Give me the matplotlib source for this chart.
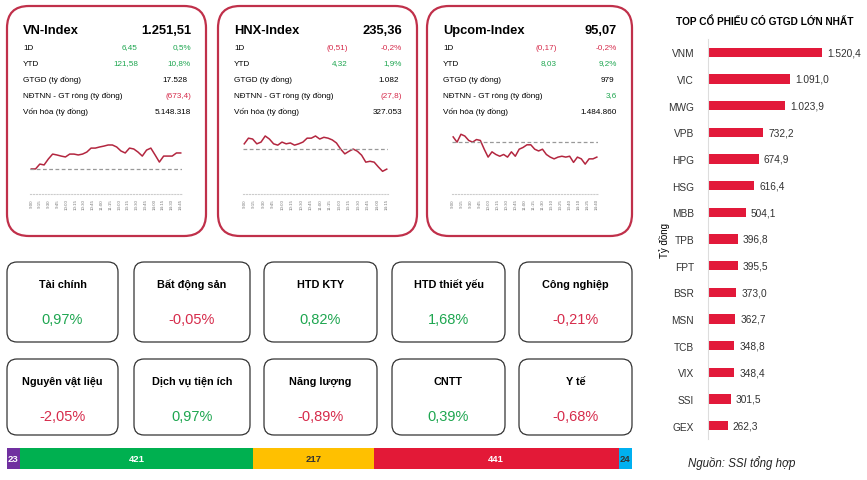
import matplotlib
matplotlib.use("Agg")
import matplotlib.pyplot as plt
from matplotlib.patches import FancyBboxPatch
import numpy as np

plt.rcParams['font.family'] = ['Liberation Sans Narrow', 'Liberation Sans', 'DejaVu Sans']

W, H = 867, 481

# ---- data ----
idx_names = ['VN-Index', 'HNX-Index', 'Upcom-Index']
idx_close = ['1.251,51', '235,36', '95,07']
idx_prev = [1245.06, 235.87, 95.24]
chg_1d = ['6,45', '(0,51)', '(0,17)']
pct_1d = ['0,5%', '-0,2%', '-0,2%']
chg_ytd = ['121,58', '4,32', '8,03']
pct_ytd = ['10,8%', '1,9%', '9,2%']
gtgd = ['17.528', '1.082', '979']
ndtnn = ['(673,4)', '(27,8)', '3,6']
von_hoa = ['5.148.318', '327.053', '1.484.860']

vn_line = [1245.1, 1245.1, 1247.3, 1246.9, 1249.6, 1251.8, 1251.4, 1250.9, 1250.5, 1251.8,
           1251.8, 1251.4, 1251.8, 1252.7, 1254.5, 1254.5, 1255.0, 1255.4, 1255.9, 1255.9,
           1255.0, 1253.2, 1252.3, 1254.5, 1254.1, 1252.7, 1250.9, 1253.6, 1254.5, 1251.4,
           1248.2, 1250.9, 1250.9, 1250.9, 1252.3, 1252.3]
hnx_line = [235.99, 236.12, 236.10, 235.99, 236.03, 236.17, 236.10, 235.99, 235.96, 236.03,
            235.99, 236.01, 235.96, 235.99, 236.03, 236.12, 236.12, 236.17, 236.10, 236.14,
            236.12, 236.08, 236.01, 235.87, 235.76, 235.82, 235.87, 235.82, 235.73, 235.57,
            235.59, 235.57, 235.46, 235.36, 235.41]
upcom_line = [95.30, 95.24, 95.33, 95.31, 95.26, 95.24, 95.27, 95.26, 95.16, 95.07,
              95.13, 95.10, 95.08, 95.10, 95.07, 95.13, 95.08, 95.16, 95.18, 95.21,
              95.21, 95.16, 95.14, 95.16, 95.10, 95.07, 95.05, 95.07, 95.08, 95.07,
              95.08, 95.01, 95.07, 95.05, 94.99, 95.05, 95.05, 95.07]
vn_times = ['9:00', '9:15', '9:30', '9:45', '10:00', '10:15', '10:30', '10:45', '11:00',
            '11:15', '13:00', '13:15', '13:30', '13:45', '14:00', '14:15', '14:30', '14:45']
hnx_times = ['9:00', '9:15', '9:30', '9:45', '10:00', '10:15', '10:30', '10:45', '11:00',
             '11:15', '13:00', '13:15', '13:30', '13:45', '14:00', '14:15']
upcom_times = ['9:00', '9:15', '9:30', '9:45', '10:00', '10:15', '10:30', '10:45', '11:00',
               '11:15', '11:30', '13:10', '13:25', '13:40', '14:10', '14:25', '14:40']

sectors = ['Tài chính', 'Bất động sản', 'HTD KTY', 'HTD thiết yếu', 'Công nghiệp',
           'Nguyên vật liệu', 'Dịch vụ tiện ích', 'Năng lượng', 'CNTT', 'Y tế']
sector_pct = [0.97, -0.05, 0.82, 1.68, -0.21, -2.05, 0.97, -0.89, 0.39, -0.68]

breadth = [23, 421, 217, 441, 24]
breadth_colors = ['#7030a0', '#00b050', '#ffc000', '#e31937', '#00b0f0']
breadth_text = ['white', 'white', '#333333', 'white', '#333333']

stocks = ['VNM', 'VIC', 'MWG', 'VPB', 'HPG', 'HSG', 'MBB', 'TPB', 'FPT', 'BSR',
          'MSN', 'TCB', 'VIX', 'SSI', 'GEX']
stock_val = [1520.4, 1091.0, 1023.9, 732.2, 674.9, 616.4, 504.1, 396.8, 395.5, 373.0,
             362.7, 348.8, 348.4, 301.5, 262.3]

GREEN = '#1ea650'
RED = '#d62b4b'
CRIMSON = '#c0304a'


def fmt(v):
    return ('%.2f' % v).replace('.', ',') + '%'


def vn_num(v):
    s = '{:,.1f}'.format(v)
    return s.replace(',', 'X').replace('.', ',').replace('X', '.')


def col(s):
    return RED if s.startswith('(') or s.startswith('-') else GREEN


fig = plt.figure(figsize=(W / 100, H / 100), dpi=100)
bg = fig.add_axes([0, 0, 1, 1])
bg.set_xlim(0, W)
bg.set_ylim(H, 0)
bg.axis('off')


def px_axes(l, t, r, b):
    return fig.add_axes([l / W, 1 - b / H, (r - l) / W, (b - t) / H])


def rbox(l, t, r, b, rad, ec, lw):
    bg.add_patch(FancyBboxPatch((l + rad, t + rad), r - l - 2 * rad, b - t - 2 * rad,
                                boxstyle='round,pad=%d' % rad, fc='white', ec=ec, lw=lw))


# ---- index panels ----
boxes = [(7, 206), (218, 417), (427, 632)]
lines = [vn_line, hnx_line, upcom_line]
times = [vn_times, hnx_times, upcom_times]
col_mid = [138, 348, 557]
spark_x = [(30, 182), (243, 388), (452, 598)]
spark_ylim = [(1233.8, 1258.6), (234.84, 236.33), (94.65, 95.39)]
spark_top = [140, 130, 130]
fs = 5.9

for i in range(3):
    l, r = boxes[i]
    rbox(l, 7, r, 237, 22, CRIMSON, 1.6)
    tx = l + 16
    rx = r - 15
    bg.text(tx, 31, idx_names[i], fontsize=9.3, fontweight='bold', va='center')
    bg.text(rx, 31, idx_close[i], fontsize=9.3, fontweight='bold', va='center', ha='right')
    rows = [('1D', chg_1d[i], pct_1d[i]), ('YTD', chg_ytd[i], pct_ytd[i])]
    for k, (lab, a, b) in enumerate(rows):
        y = 48 + 16 * k
        bg.text(tx, y, lab, fontsize=fs, va='center')
        bg.text(col_mid[i], y, a, fontsize=fs, va='center', ha='right', color=col(a))
        bg.text(rx, y, b, fontsize=fs, va='center', ha='right', color=col(b))
    bg.text(tx, 80, 'GTGD (tỷ đồng)', fontsize=fs, va='center')
    bg.text(rx - 3, 80, gtgd[i], fontsize=fs, va='center', ha='right')
    bg.text(tx, 96, 'NĐTNN - GT ròng (tỷ đồng)', fontsize=fs, va='center')
    bg.text(rx, 96, ndtnn[i], fontsize=fs, va='center', ha='right', color=col(ndtnn[i]))
    bg.text(tx, 112, 'Vốn hóa (tỷ đồng)', fontsize=fs, va='center')
    bg.text(rx, 112, von_hoa[i], fontsize=fs, va='center', ha='right')

    sx0, sx1 = spark_x[i]
    ax = px_axes(sx0, spark_top[i], sx1, 195)
    ax.patch.set_alpha(0)
    n = len(lines[i])
    ax.plot(range(n), lines[i], color='#b3263f', lw=1.1)
    ax.axhline(idx_prev[i], color='#999999', lw=0.9, ls=(0, (3, 2)))
    ax.set_xlim(-0.3, n - 0.7)
    ax.set_ylim(*spark_ylim[i])
    for s in ['top', 'right', 'left']:
        ax.spines[s].set_visible(False)
    ax.spines['bottom'].set_color('#cccccc')
    ax.spines['bottom'].set_linestyle(':')
    ax.set_yticks([])
    ax.set_xticks(np.linspace(0, n - 1, len(times[i])))
    ax.set_xticklabels(times[i], rotation=90, fontsize=3.2, color='#777777')
    ax.tick_params(axis='x', length=0, pad=3)

# ---- sector boxes ----
sx = [(7, 118), (134, 250), (264, 377), (392, 505), (519, 632)]
srows = [(263, 343), (360, 436)]
for j, name in enumerate(sectors):
    l, r = sx[j % 5]
    t, b = srows[j // 5]
    rbox(l, t, r, b, 10, '#333333', 0.9)
    cx = (l + r) / 2
    bg.text(cx, t + 22, name, fontsize=7.8, fontweight='bold', ha='center', va='center')
    v = sector_pct[j]
    bg.text(cx, t + 57, fmt(v), fontsize=10.5, ha='center', va='center',
            color=GREEN if v >= 0 else RED)

# ---- breadth bar ----
bax = px_axes(7, 449, 632, 470)
left = 0
for v, c, tc in zip(breadth, breadth_colors, breadth_text):
    bax.barh(0, v, left=left, color=c, height=1)
    bax.text(left + v / 2, 0, str(v), ha='center', va='center', fontsize=6.8,
             fontweight='bold', color=tc)
    left += v
bax.set_xlim(0, sum(breadth))
bax.set_ylim(-0.5, 0.5)
bax.axis('off')

# ---- top stocks bar chart ----
tax = px_axes(708, 40, 862, 440)
ypos = np.arange(len(stocks))
tax.barh(ypos, stock_val, height=0.36, color='#e2193a')
for y, v in zip(ypos, stock_val):
    tax.text(v + 70, y, vn_num(v), va='center', ha='left', fontsize=7.3, color='#333333')
tax.set_ylim(len(stocks) - 0.5, -0.5)
tax.set_xlim(0, 2054)
tax.set_yticks(ypos)
tax.set_yticklabels(stocks, fontsize=7.3, color='#333333')
tax.tick_params(axis='y', length=0, pad=10)
tax.set_xticks([])
for s in ['top', 'right', 'bottom']:
    tax.spines[s].set_visible(False)
tax.spines['left'].set_color('#dddddd')
tax.patch.set_alpha(0)

bg.text(765, 22, 'TOP CỔ PHIẾU CÓ GTGD LỚN NHẤT', fontsize=7.3, fontweight='bold',
        ha='center', va='center')
bg.text(664, 240, 'Tỷ đồng', fontsize=7, rotation=90, ha='center', va='center')
bg.text(742, 463, 'Nguồn: SSI tổng hợp', fontsize=8.3, style='italic', ha='center',
        va='center', color='#222222')

fig.savefig('out.png', dpi=100)
